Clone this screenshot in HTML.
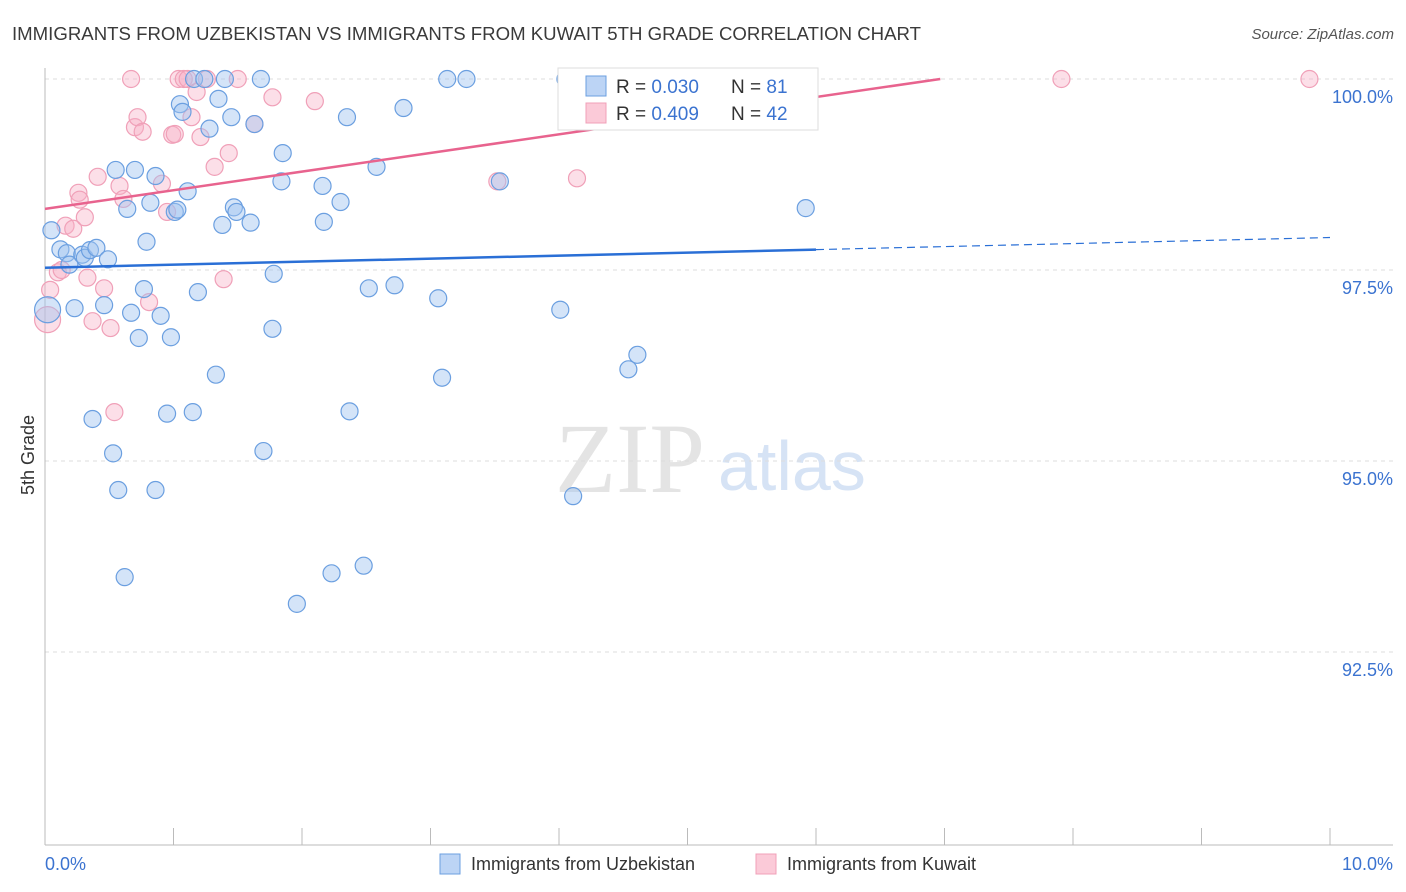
<!DOCTYPE html>
<html><head><meta charset="utf-8"><style>
body{margin:0;background:#fff;font-family:"Liberation Sans",sans-serif}
svg{display:block}
</style></head><body>
<svg id="c" width="1406" height="892">
<text x="12" y="40" font-size="18" fill="#3a3a3a" textLength="909" lengthAdjust="spacingAndGlyphs">IMMIGRANTS FROM UZBEKISTAN VS IMMIGRANTS FROM KUWAIT 5TH GRADE CORRELATION CHART</text>
<text x="1394" y="39" font-size="15" fill="#555" font-style="italic" text-anchor="end">Source: ZipAtlas.com</text>
<text x="34" y="455" font-size="18" fill="#333" text-anchor="middle" transform="rotate(-90 34 455)">5th Grade</text>
<text x="555" y="492" font-size="100" fill="#e4e4e4" font-family="Liberation Serif,serif">ZIP</text>
<text x="718" y="490" font-size="70" fill="#d6e3f5">atlas</text>
<g id="grid"></g><g id="marks"></g>
<g>
<rect x="558" y="68" width="260" height="62" fill="#fff" stroke="#ddd"/>
<rect x="586" y="76" width="20" height="20" fill="#bcd4f5" stroke="#6b9fe0"/>
<rect x="586" y="103" width="20" height="20" fill="#fbcad8" stroke="#f0a0b8"/>
<text x="616" y="93" font-size="19" fill="#333">R = <tspan fill="#3b73d0">0.030</tspan></text>
<text x="731" y="93" font-size="19" fill="#333">N = <tspan fill="#3b73d0"> 81</tspan></text>
<text x="616" y="120" font-size="19" fill="#333">R = <tspan fill="#3b73d0">0.409</tspan></text>
<text x="731" y="120" font-size="19" fill="#333">N = <tspan fill="#3b73d0"> 42</tspan></text>
</g>
<g>
<rect x="440" y="854" width="20" height="20" fill="#bcd4f5" stroke="#6b9fe0"/>
<text x="471" y="870" font-size="18" fill="#333">Immigrants from Uzbekistan</text>
<rect x="756" y="854" width="20" height="20" fill="#fbcad8" stroke="#f0a0b8"/>
<text x="787" y="870" font-size="18" fill="#333">Immigrants from Kuwait</text>
</g>
</svg>
<script>
const blueX=[0.02,0.05,0.12,0.17,0.19,0.23,0.29,0.31,0.35,0.40,0.46,0.49,0.55,0.57,0.62,0.53,0.37,0.64,0.67,0.70,0.73,0.77,0.79,0.82,0.86,0.86,0.90,0.95,0.98,1.01,1.03,1.05,1.07,1.11,1.15,1.16,1.19,1.24,1.28,1.33,1.35,1.38,1.40,1.45,1.47,1.49,1.60,1.63,1.68,1.70,1.77,1.78,1.84,1.85,1.96,2.16,2.17,2.23,2.30,2.35,2.37,2.48,2.52,2.58,2.72,2.79,3.06,3.09,3.13,3.28,3.54,4.01,4.05,4.11,4.54,4.61,5.92];
const blueY=[96.98,98.02,97.77,97.72,97.57,97.00,97.70,97.66,97.76,97.79,97.04,97.64,98.81,94.62,93.48,95.10,95.55,98.30,96.94,98.81,96.61,97.25,97.87,98.38,98.73,94.62,96.90,95.62,96.62,98.26,98.29,99.67,99.57,98.53,95.64,100,97.21,100,99.35,96.13,99.74,98.09,100,99.50,98.32,98.26,98.12,99.41,100,95.13,96.73,97.45,98.66,99.03,93.13,98.60,98.13,93.53,98.39,99.50,95.65,93.63,97.26,98.85,97.30,99.62,97.13,96.09,100,100,98.66,96.98,100,94.54,96.20,96.39,98.31];
const pinkX=[0.02,0.04,0.10,0.13,0.16,0.22,0.26,0.27,0.31,0.33,0.37,0.41,0.46,0.51,0.54,0.58,0.61,0.67,0.70,0.72,0.76,0.81,0.91,0.95,0.99,1.01,1.04,1.08,1.11,1.14,1.18,1.21,1.26,1.32,1.39,1.43,1.50,1.63,1.77,2.10,3.52,4.14,7.91,9.84];
const pinkY=[96.85,97.24,97.47,97.50,98.08,98.04,98.51,98.42,98.19,97.40,96.83,98.72,97.26,96.74,95.64,98.60,98.43,100,99.37,99.50,99.31,97.08,98.63,98.26,99.27,99.28,100,100,100,99.50,99.83,99.24,100,98.85,97.38,99.03,100,99.41,99.76,99.71,98.66,98.70,100,100];
const blueTrend=[97.53,0.0395];
const pinkTrend=[98.30,0.244];
const yTicks=[100,97.5,95,92.5];
const yTickLabels=["100.0%","97.5%","95.0%","92.5%"];
const xTicks=[0,1,2,3,4,5,6,7,8,9,10];
const X=v=>45+v*128.5, Y=v=>79+(100-v)*76.4;
const NS="http://www.w3.org/2000/svg";
const g=document.getElementById('grid'), m=document.getElementById('marks');
function el(t,a,p){const e=document.createElementNS(NS,t);for(const k in a)e.setAttribute(k,a[k]);p.appendChild(e);return e;}
yTicks.forEach((t,i)=>{
 const l=el('line',{x1:45,x2:1393,y1:Y(t),y2:Y(t),stroke:'#ddd','stroke-dasharray':'4,4'},g);
 
 
 const tx=el('text',{x:1393,y:Y(t)+24,'font-size':18,fill:'#3b73d0','text-anchor':'end'},g);
 tx.textContent=yTickLabels[i];
 
 
});
const ax=el('line',{x1:45,x2:1393,y1:845,y2:845,stroke:'#bbb'},g);


const ay=el('line',{x1:45,x2:45,y1:68,y2:845,stroke:'#bbb'},g);


xTicks.forEach(t=>{
 const l=el('line',{x1:X(t),x2:X(t),y1:828,y2:845,stroke:'#bbb'},g);
 
 
});
const x0=el('text',{x:45,y:870,'font-size':18,fill:'#3b73d0'},g);x0.textContent='0.0%';


const x1=el('text',{x:1393,y:870,'font-size':18,fill:'#3b73d0','text-anchor':'end'},g);x1.textContent='10.0%';


function dots(xs,ys,fill,stroke,name){xs.forEach((x,i)=>{
 const c=el('circle',{cx:X(x),cy:Y(ys[i]),r:(i==0?13:8.5),fill:fill,stroke:stroke,'stroke-width':1.2},m);
 
 
});}
dots(pinkX,pinkY,'rgba(248,175,198,0.4)','#f0a0b8','point-kuwait');
dots(blueX,blueY,'rgba(160,195,240,0.45)','#6b9fe0','point-uzbekistan');
const bl=el('line',{x1:X(0),y1:Y(blueTrend[0]),x2:X(6),y2:Y(blueTrend[0]+blueTrend[1]*6),stroke:'#2a6fd6','stroke-width':2.5},m);


const bd=el('line',{x1:X(6),y1:Y(blueTrend[0]+blueTrend[1]*6),x2:X(10),y2:Y(blueTrend[0]+blueTrend[1]*10),stroke:'#2a6fd6','stroke-width':1.2,'stroke-dasharray':'8,5'},m);


const xe=(100-pinkTrend[0])/pinkTrend[1];
const pl=el('line',{x1:X(0),y1:Y(pinkTrend[0]),x2:X(xe),y2:Y(100),stroke:'#e8638e','stroke-width':2.5},m);


</script>
</body></html>
